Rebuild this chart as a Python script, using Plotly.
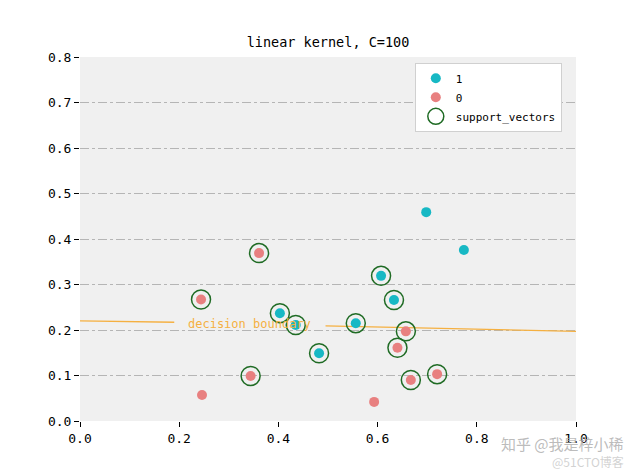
import plotly.graph_objects as go

# class 1 points
pos_x = [0.698, 0.774, 0.607, 0.633, 0.556, 0.403, 0.435, 0.482]
pos_y = [0.459, 0.376, 0.319, 0.266, 0.215, 0.237, 0.211, 0.149]
# class 0 points
neg_x = [0.361, 0.244, 0.344, 0.246, 0.593, 0.657, 0.640, 0.667, 0.720]
neg_y = [0.369, 0.267, 0.099, 0.057, 0.042, 0.197, 0.161, 0.090, 0.103]
# support vectors
sv_x = [0.607, 0.633, 0.556, 0.403, 0.435, 0.482, 0.361, 0.244, 0.344, 0.657, 0.640, 0.667, 0.720]
sv_y = [0.319, 0.266, 0.215, 0.237, 0.211, 0.149, 0.369, 0.267, 0.099, 0.197, 0.161, 0.090, 0.103]
# decision boundary (two segments, broken by inline label)
db_left_x = [0.0, 0.19]
db_left_y = [0.220, 0.217]
db_right_x = [0.495, 0.75, 1.0]
db_right_y = [0.209, 0.203, 0.197]

x_ticks = [0.0, 0.2, 0.4, 0.6, 0.8, 1.0]
y_ticks = [0.0, 0.1, 0.2, 0.3, 0.4, 0.5, 0.6, 0.7, 0.8]

mono = "DejaVu Sans Mono"

fig = go.Figure()
line_style = dict(color="#f5b041", width=1.3)
fig.add_trace(go.Scatter(x=db_left_x, y=db_left_y, mode="lines", line=line_style,
                         showlegend=False, hoverinfo="skip"))
fig.add_trace(go.Scatter(x=db_right_x, y=db_right_y, mode="lines", line=line_style,
                         showlegend=False, hoverinfo="skip"))
fig.add_trace(go.Scatter(x=pos_x, y=pos_y, mode="markers", name="1",
                         marker=dict(color="#17b8c4", size=10, line=dict(width=0))))
fig.add_trace(go.Scatter(x=neg_x, y=neg_y, mode="markers", name="0",
                         marker=dict(color="#e88080", size=10, line=dict(width=0))))
fig.add_trace(go.Scatter(x=sv_x, y=sv_y, mode="markers", name="support_vectors",
                         marker=dict(color="rgba(0,0,0,0)", size=19,
                                     line=dict(color="#1f6b24", width=1.5))))

fig.add_annotation(x=0.342, y=0.214, text="decision boundary", showarrow=False,
                   font=dict(family=mono, size=12, color="#f5b041"))
fig.add_annotation(x=1.0, y=0.0, xref="x", yref="y", text="知乎 @我是梓小稀",
                   showarrow=False, xanchor="right", yanchor="top", yshift=-10, xshift=50,
                   font=dict(family="Noto Sans CJK SC", size=15, color="rgba(170,170,170,0.8)"))
fig.add_annotation(x=1.0, y=0.0, xref="x", yref="y", text="@51CTO博客",
                   showarrow=False, xanchor="right", yanchor="top", yshift=-30, xshift=50,
                   font=dict(family="Noto Sans CJK SC", size=12, color="rgba(190,190,190,0.7)"))

fig.update_layout(
    width=640, height=473,
    margin=dict(l=80, r=64, t=57, b=52),
    paper_bgcolor="white", plot_bgcolor="#f0f0f0",
    title=dict(text="linear kernel, C=100", x=0.5125, xanchor="center", y=0.91, yanchor="middle",
               font=dict(family=mono, size=13.5, color="black")),
    font=dict(family=mono, size=12, color="black"),
    legend=dict(x=0.675, y=0.984, xanchor="left", yanchor="top",
                bgcolor="white", bordercolor="#d0d0d0", borderwidth=1,
                font=dict(family=mono, size=11), itemsizing="trace"),
    showlegend=True,
)
fig.update_xaxes(range=[0, 1], tickvals=x_ticks, ticktext=[f"{v:.1f}" for v in x_ticks],
                 showgrid=False, zeroline=False, showline=False,
                 ticks="outside", ticklen=5, tickcolor="black",
                 tickfont=dict(family=mono, size=13))
fig.update_yaxes(range=[0, 0.8], tickvals=y_ticks, ticktext=[f"{v:.1f}" for v in y_ticks],
                 showgrid=True, gridcolor="#b5b5b5", griddash="dashdot", gridwidth=1,
                 zeroline=False, showline=False,
                 ticks="outside", ticklen=5, tickcolor="black",
                 tickfont=dict(family=mono, size=13))

fig.write_html("out.html")
